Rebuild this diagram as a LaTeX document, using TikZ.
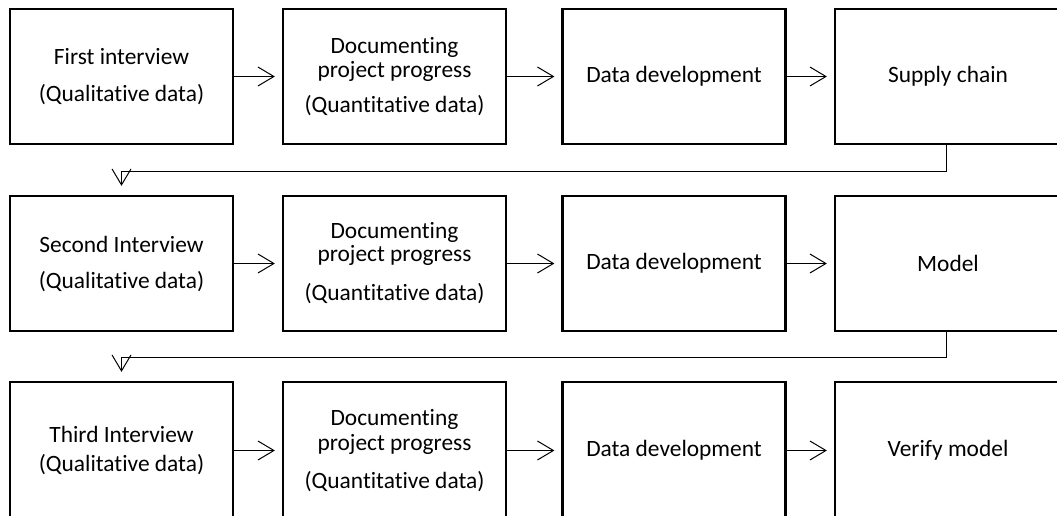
\documentclass[tikz,border=0pt]{standalone}
\usepackage{fontspec}
\setmainfont{Carlito}[RawFeature={-liga}]
\usetikzlibrary{arrows.meta}
\begin{document}
\begin{tikzpicture}[x=1pt,y=-1pt,
  stage/.style={draw, line width=2.2pt, minimum width=223pt, minimum height=135pt,
    inner sep=0pt, align=center, font=\fontsize{23.4}{24}\selectfont},
  edgestage/.style={stage, minimum width=226pt},
  lowstage/.style={minimum height=137pt},
  barb/.style={-{Straight Barb[length=16pt,width=19pt]}},
  flow/.style={barb, line width=1pt, shorten >=7pt},
  wrapflow/.style={barb, line width=1pt, shorten >=9pt}]
\clip (0,0) rectangle (1057,516);
\useasboundingbox (0,0) rectangle (1057,516);

% first round
\node[stage] (b11) at (121.5,76.5) {First interview\\[12.5pt](Qualitative data)};
\node[stage] (b12) at (394.5,76.5) {Documenting\\[0.5pt]project progress\\[11pt](Quantitative data)};
\node[stage] (b13) at (674,76.5) {Data development};
\node[edgestage] (b14) at (948,76.5) {Supply chain};

% second round
\node[stage] (b21) at (121.5,263.5) {Second Interview\\[12pt](Qualitative data)};
\node[stage] (b22) at (394.5,263.5) {Documenting\\[-1pt]project progress\\[15pt](Quantitative data)};
\node[stage] (b23) at (674,263.5) {Data development};
\node[edgestage] (b24) at (948,263.5) {Model};

% third round
\node[stage, lowstage] (b31) at (121.5,450.5) {Third Interview\\[5pt](Qualitative data)};
\node[stage, lowstage] (b32) at (394.5,450.5) {Documenting\\[1pt]project progress\\[14pt](Quantitative data)};
\node[stage, lowstage] (b33) at (674,450.5) {Data development};
\node[edgestage, lowstage] (b34) at (948,450.5) {Verify model};

% steps within each round
\foreach \r in {1,2,3}{
  \draw[flow] (b\r1.east) -- (b\r2.west);
  \draw[flow] (b\r2.east) -- (b\r3.west);
  \draw[flow] (b\r3.east) -- (b\r4.west);
}

% hand-over to the next round
\draw[wrapflow] ([xshift=-2pt]b14.south) -- ++(0,26) -| (b21.north);
\draw[wrapflow] ([xshift=-2pt]b24.south) -- ++(0,25) -| (b31.north);
\end{tikzpicture}
\end{document}
